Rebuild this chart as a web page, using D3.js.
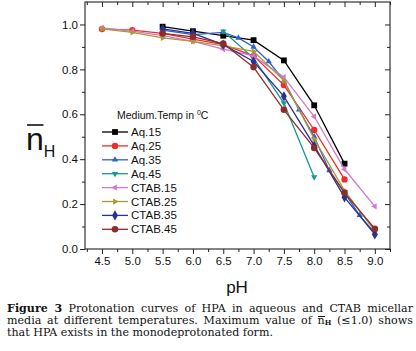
<!DOCTYPE html>
<html>
<head>
<meta charset="utf-8">
<script src="https://cdn.jsdelivr.net/npm/d3@7"></script>
<style>
  body { margin: 0; background: #fff; width: 416px; height: 351px; overflow: hidden; position: relative; }
  svg { position: absolute; left: 0; top: 0; }
  .cap { position: absolute; left: 7px; width: 406px; font-family: "DejaVu Serif", serif; font-size: 11.1px; line-height: 12px; color: #111; white-space: nowrap; }
  .just { text-align: justify; text-align-last: justify; white-space: normal; }
  .cap b { font-weight: bold; }
  .ov { display: inline-block; line-height: 8px; border-top: 1px solid #111; }
  .nh sub { font-size: 7px; font-weight: bold; vertical-align: -1px; }
</style>
</head>
<body>
<div id="chart"></div>
<div class="cap just" style="top:303px"><b>Figure 3</b> Protonation curves of HPA in aqueous and CTAB micellar</div>
<div class="cap just" style="top:315px">media at different temperatures. Maximum value of <span class="nh"><span class="ov">n</span><sub>H</sub></span> (≤1.0) shows</div>
<div class="cap" style="top:327px">that HPA exists in the monodeprotonated form.</div>
<script>
// ─── data ────────────────────────────────────────────────────────────────────
const seriesNames = ["Aq.15", "Aq.25", "Aq.35", "Aq.45", "CTAB.15", "CTAB.25", "CTAB.35", "CTAB.45"];

const phAq15 = [5.5, 6.0, 6.5, 7.0, 7.5, 8.0, 8.5];
const nAq15 = [0.99, 0.97, 0.95, 0.93, 0.84, 0.64, 0.38];

const phAq25 = [4.5, 5.0, 5.5, 6.0, 6.5, 7.0, 7.5, 8.0, 8.5];
const nAq25 = [0.98, 0.975, 0.96, 0.935, 0.91, 0.86, 0.73, 0.53, 0.31];

const phAq35 = [5.5, 6.0, 6.5, 6.75, 7.0, 7.25, 7.5, 7.75, 8.0, 8.25, 8.5, 8.75, 9.0];
const nAq35 = [0.975, 0.955, 0.965, 0.94, 0.90, 0.835, 0.75, 0.62, 0.50, 0.35, 0.25, 0.15, 0.07];

const phAq45 = [6.5, 7.0, 7.5, 8.0];
const nAq45 = [0.97, 0.85, 0.65, 0.32];

const phCtab15 = [4.5, 5.0, 5.5, 6.0, 6.5, 7.0, 7.5, 8.0, 8.5, 9.0];
const nCtab15 = [0.985, 0.97, 0.95, 0.925, 0.89, 0.86, 0.765, 0.59, 0.355, 0.19];

const phCtab25 = [4.5, 5.0, 5.5, 6.0, 6.5, 7.0, 7.5, 8.0, 8.5, 9.0];
const nCtab25 = [0.98, 0.965, 0.94, 0.925, 0.905, 0.88, 0.75, 0.49, 0.26, 0.08];

const phCtab35 = [5.5, 6.0, 6.5, 7.0, 7.5, 8.0, 8.5, 9.0];
const nCtab35 = [0.98, 0.96, 0.91, 0.835, 0.68, 0.46, 0.23, 0.065];

const phCtab45 = [5.5, 6.0, 6.5, 7.0, 7.5, 8.0, 8.5, 9.0];
const nCtab45 = [0.96, 0.945, 0.915, 0.81, 0.62, 0.45, 0.25, 0.09];

const xTicks = [4.5, 5.0, 5.5, 6.0, 6.5, 7.0, 7.5, 8.0, 8.5, 9.0];
const yTicks = [0.0, 0.2, 0.4, 0.6, 0.8, 1.0];

// ─── styling ────────────────────────────────────────────────────────────────
const COLORS = ["#000000", "#f42a2a", "#2f62c8", "#16998e", "#cf79cf", "#ab9a34", "#2b3192", "#8e2c2c"];
// triangle pointing in direction `deg` (0 = up)
const rotTri = (deg) => ({ draw(ctx, size) {
    const R = Math.sqrt(size * 4 / (3 * Math.sqrt(3)));
    for (let i = 0; i < 3; i++) {
        const a = (deg + i * 120 - 90) * Math.PI / 180;
        const px = Math.cos(a) * R * 0.62, py = Math.sin(a) * R * 0.62;
        i === 0 ? ctx.moveTo(px, py) : ctx.lineTo(px, py);
    }
    ctx.closePath();
}});
const SYMBOLS = [d3.symbolSquare, d3.symbolCircle, rotTri(0), rotTri(180), rotTri(270), rotTri(90), d3.symbolDiamond, d3.symbolCircle];
const SIZES = [34, 32, 44, 44, 44, 44, 30, 34];

const series = [
    [phAq15, nAq15], [phAq25, nAq25], [phAq35, nAq35], [phAq45, nAq45],
    [phCtab15, nCtab15], [phCtab25, nCtab25], [phCtab35, nCtab35], [phCtab45, nCtab45]
].map(([xs, ys], i) => ({ name: seriesNames[i], pts: xs.map((x, j) => [x, ys[j]]) }));

const W = 416, H = 351;
const plotL = 85, plotR = 390, plotT = 2, plotB = 249;

const svg = d3.select("#chart").append("svg")
    .attr("width", W).attr("height", H)
    .style("font-family", "'Liberation Sans', Arial, sans-serif");

const x = d3.scaleLinear().domain([4.22, 9.25]).range([plotL, plotR]);
const y = d3.scaleLinear().domain([0, 1.1]).range([plotB, plotT]);

const minorX = d3.range(4.25, 9.26, 0.25).filter(v => !xTicks.some(t => Math.abs(t - v) < 1e-6));
const minorY = d3.range(0.1, 1.1, 0.2);

const axisColor = "#222";
function styleAxis(sel) {
    sel.select(".domain").remove();
    sel.selectAll("line").attr("stroke", axisColor);
    sel.selectAll("text").attr("fill", "#111").style("font-size", "11.5px");
}

// bottom / left, ticks outward
svg.append("g").attr("transform", `translate(0,${plotB})`)
    .call(d3.axisBottom(x).tickValues(xTicks).tickFormat(d3.format(".1f")).tickSize(5).tickPadding(3))
    .call(styleAxis);
svg.append("g").attr("transform", `translate(0,${plotB})`)
    .call(d3.axisBottom(x).tickValues(minorX).tickFormat("").tickSize(3))
    .call(styleAxis);
svg.append("g").attr("transform", `translate(${plotL},0)`)
    .call(d3.axisLeft(y).tickValues(yTicks).tickFormat(d3.format(".1f")).tickSize(5).tickPadding(2))
    .call(styleAxis);
svg.append("g").attr("transform", `translate(${plotL},0)`)
    .call(d3.axisLeft(y).tickValues(minorY).tickFormat("").tickSize(3))
    .call(styleAxis);

// top / right mirror, ticks inward
svg.append("g").attr("transform", `translate(0,${plotT})`)
    .call(d3.axisTop(x).tickValues(xTicks).tickFormat("").tickSize(-5))
    .call(styleAxis);
svg.append("g").attr("transform", `translate(0,${plotT})`)
    .call(d3.axisTop(x).tickValues(minorX).tickFormat("").tickSize(-3))
    .call(styleAxis);
svg.append("g").attr("transform", `translate(${plotR},0)`)
    .call(d3.axisRight(y).tickValues(yTicks).tickFormat("").tickSize(-5))
    .call(styleAxis);
svg.append("g").attr("transform", `translate(${plotR},0)`)
    .call(d3.axisRight(y).tickValues(minorY).tickFormat("").tickSize(-3))
    .call(styleAxis);

svg.append("rect")
    .attr("x", plotL).attr("y", plotT).attr("width", plotR - plotL).attr("height", plotB - plotT)
    .attr("fill", "none").attr("stroke", axisColor).attr("stroke-width", 1.1);

// ─── series ────────────────────────────────────────────────────────────────
const line = d3.line().x(d => x(d[0])).y(d => y(d[1]));

series.forEach((s, i) => {
    const g = svg.append("g");
    g.append("path").attr("d", line(s.pts))
        .attr("fill", "none").attr("stroke", COLORS[i]).attr("stroke-width", 1.3);
    g.selectAll("path.m").data(s.pts).join("path").attr("class", "m")
        .attr("transform", d => `translate(${x(d[0])},${y(d[1])})`)
        .attr("d", d3.symbol(SYMBOLS[i], SIZES[i]))
        .attr("fill", COLORS[i]);
});

// ─── legend ────────────────────────────────────────────────────────────────
const legX = 102, legY0 = 132, legStep = 13.9;
const title = svg.append("text").attr("x", 117).attr("y", 119)
    .style("font-size", "10.5px").attr("fill", "#111");
title.append("tspan").text("Medium.Temp in ");
title.append("tspan").text("0").attr("dy", -4).style("font-size", "7px");
title.append("tspan").text("C").attr("dy", 4);

series.forEach((s, i) => {
    const ly = legY0 + i * legStep;
    svg.append("line").attr("x1", legX).attr("x2", legX + 26).attr("y1", ly).attr("y2", ly)
        .attr("stroke", COLORS[i]).attr("stroke-width", 1.3);
    svg.append("path").attr("transform", `translate(${legX + 13},${ly})`)
        .attr("d", d3.symbol(SYMBOLS[i], SIZES[i])).attr("fill", COLORS[i]);
    svg.append("text").attr("x", legX + 29).attr("y", ly + 4)
        .style("font-size", "11.5px").attr("fill", "#111").text(s.name);
});

// ─── axis titles ───────────────────────────────────────────────────────────
svg.append("text").attr("x", 237).attr("y", 293).attr("text-anchor", "middle")
    .style("font-size", "17px").attr("fill", "#111").text("pH");

const yl = svg.append("text").attr("x", 26).attr("y", 150).attr("fill", "#111");
yl.append("tspan").text("n").style("font-size", "32px");
yl.append("tspan").text("H").attr("dy", 7).style("font-size", "16px");
svg.append("line").attr("x1", 27).attr("x2", 43.5).attr("y1", 125).attr("y2", 125)
    .attr("stroke", "#111").attr("stroke-width", 1.6);
</script>
</body>
</html>
